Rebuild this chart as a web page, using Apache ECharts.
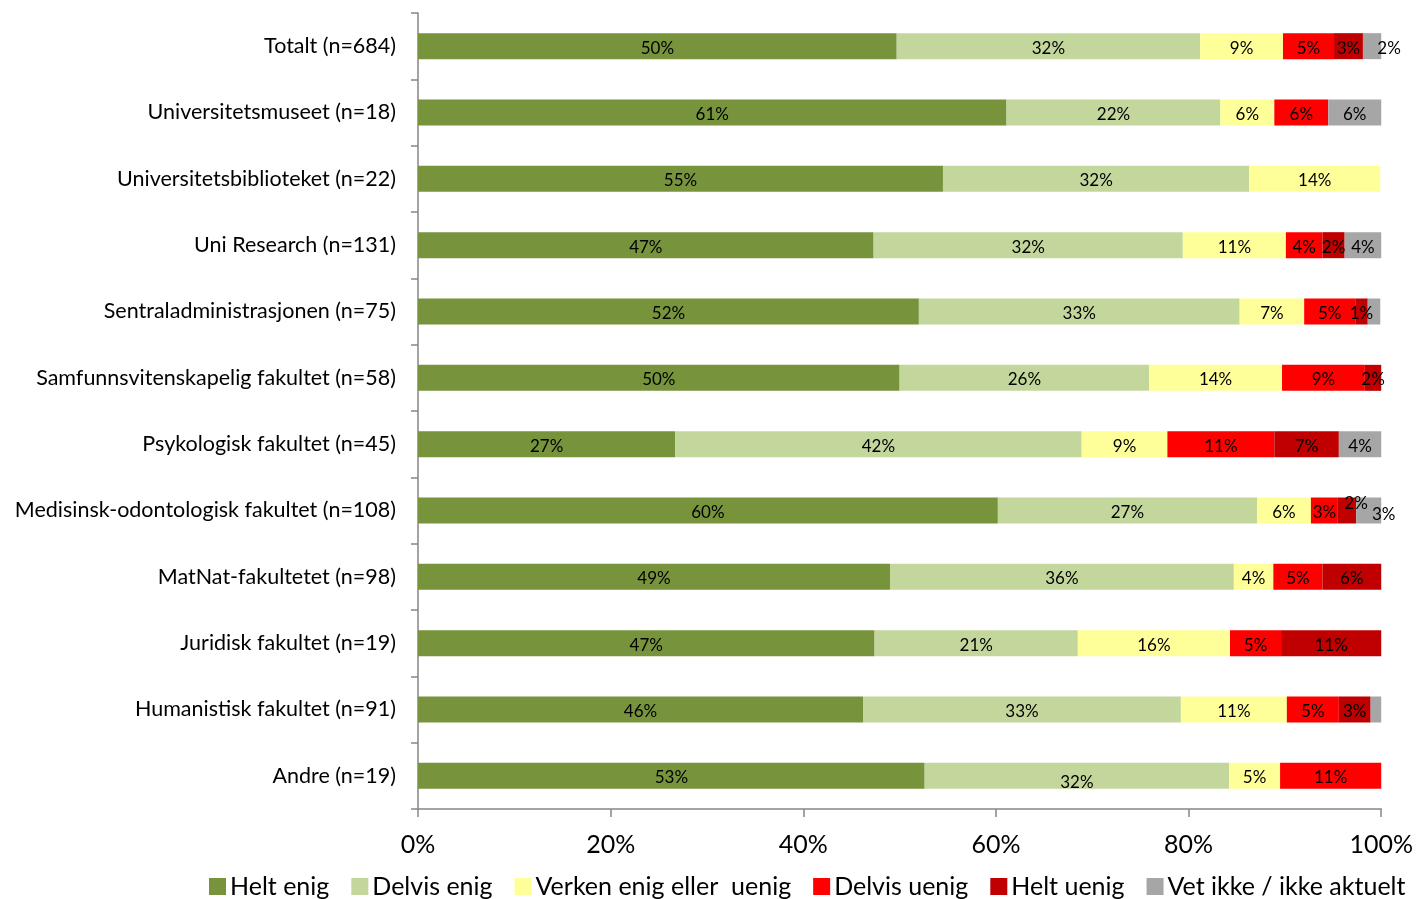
<!DOCTYPE html>
<html>
<head>
<meta charset="utf-8">
<script src="https://cdn.jsdelivr.net/npm/echarts@6/dist/echarts.min.js"></script>
<style>
    html, body {margin: 0; padding: 0; background: #fff;}
    #chart {width: 1416px; height: 899px;}
</style>
</head>
<body>
<div id="chart"></div>
<script>
var categories = ['Totalt (n=684)', 'Universitetsmuseet (n=18)', 'Universitetsbiblioteket (n=22)', 'Uni Research (n=131)',
    'Sentraladministrasjonen (n=75)', 'Samfunnsvitenskapelig fakultet (n=58)', 'Psykologisk fakultet (n=45)',
    'Medisinsk-odontologisk fakultet (n=108)', 'MatNat-fakultetet (n=98)', 'Juridisk fakultet (n=19)',
    'Humanistisk fakultet (n=91)', 'Andre (n=19)'];
var seriesNames = ['Helt enig', 'Delvis enig', 'Verken enig eller  uenig', 'Delvis uenig', 'Helt uenig', 'Vet ikke / ikke aktuelt'];
// andel i prosent, rekkefolge som kategoriene (topp til bunn)
var heltEnig    = [49.7, 61.1, 54.5, 47.3, 52.0, 50.0, 26.7, 60.2, 49.0, 47.4, 46.2, 52.6];
var delvisEnig  = [31.5, 22.2, 31.8, 32.1, 33.3, 25.9, 42.2, 26.9, 35.7, 21.1, 33.0, 31.6];
var verken      = [8.6, 5.6, 13.6, 10.7, 6.7, 13.8, 8.9, 5.6, 4.1, 15.8, 11.0, 5.3];
var delvisUenig = [5.3, 5.6, 0, 3.8, 5.3, 8.6, 11.1, 2.8, 5.1, 5.3, 5.4, 10.5];
var heltUenig   = [3.0, 0, 0, 2.3, 1.3, 1.7, 6.7, 1.9, 6.1, 10.5, 3.3, 0];
var vetIkke     = [1.9, 5.6, 0, 3.8, 1.3, 0, 4.4, 2.8, 0, 0, 1.1, 0];
var xTicks = [0, 20, 40, 60, 80, 100];

var colors = ['#77933C', '#C3D69B', '#FFFF99', '#FF0000', '#C00000', '#A6A6A6'];
var allValues = [heltEnig, delvisEnig, verken, delvisUenig, heltUenig, vetIkke];

// etiketter som er flyttet eller skjult i originalen: "serie-rad"
var labelTweaks = {
    '5-0': {offset: [17, 2]},
    '5-4': {show: false},
    '5-10': {show: false},
    '4-7': {offset: [9, -7]},
    '5-7': {offset: [15, 4]},
    '1-11': {offset: [0, 7]}
};

var font = 'Lato, "Open Sans", sans-serif';

var series = [];
for (var s = 0; s < allValues.length; s++) {
    var data = [];
    for (var i = 0; i < allValues[s].length; i++) {
        var v = allValues[s][i];
        var item = {value: v};
        var tw = labelTweaks[s + '-' + i];
        if (v === 0) {
            item.label = {show: false};
        } else if (tw) {
            item.label = tw;
        }
        data.push(item);
    }
    series.push({
        name: seriesNames[s],
        type: 'bar',
        stack: 'total',
        barWidth: 26,
        itemStyle: {color: colors[s]},
        label: {
            show: true,
            position: 'inside',
            offset: [0, 2],
            color: '#000',
            fontFamily: font,
            fontSize: 17,
            formatter: function (p) {
                return Math.round(p.value) + '%';
            }
        },
        data: data
    });
}

var option = {
    animation: false,
    textStyle: {fontFamily: font},
    legend: {
        bottom: -5,
        left: 204,
        itemWidth: 17,
        itemHeight: 17,
        itemGap: 22,
        icon: 'rect',
        textStyle: {fontSize: 25, color: '#000', fontFamily: font, padding: [0, 0, 0, -1]},
        data: seriesNames
    },
    grid: {left: 418, right: 34, top: 13, bottom: 90, containLabel: false},
    xAxis: {
        type: 'value',
        min: xTicks[0],
        max: xTicks[xTicks.length - 1],
        interval: xTicks[1] - xTicks[0],
        axisLine: {show: true, lineStyle: {color: '#868686', width: 1.5}},
        axisTick: {show: true, length: 8, lineStyle: {color: '#868686', width: 1.5}},
        splitLine: {show: false},
        axisLabel: {
            fontSize: 25,
            color: '#000',
            margin: 23,
            formatter: '{value}%'
        }
    },
    yAxis: {
        type: 'category',
        inverse: true,
        data: categories,
        axisLine: {show: true, lineStyle: {color: '#868686', width: 1.5}},
        axisTick: {show: true, length: 7, lineStyle: {color: '#868686', width: 1.5}},
        axisLabel: {fontSize: 21.5, color: '#000', margin: 22}
    },
    series: series
};

var myChart = echarts.init(document.getElementById('chart'));
myChart.setOption(option);
window.onresize = myChart.resize;
</script>
</body>
</html>
